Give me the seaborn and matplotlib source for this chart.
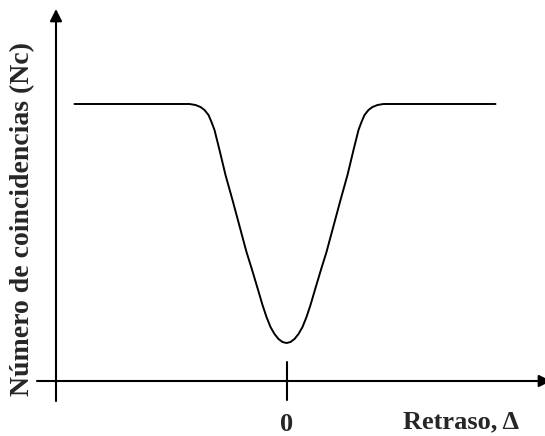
import matplotlib.pyplot as plt
import seaborn as sns
import pandas as pd

# curve (arbitrary units, delay 0 at the tick)
delay = [-21.2, -18.7, -13.7, -9.7, -9.1, -8.6, -8.2, -7.8, -7.5, -7.2,
         -6.7, -6.1, -5.4, -4.7, -4.0, -3.5, -2.9, -2.4, -2.0, -1.6,
         -1.2, -0.8, -0.4, 0.0,
         0.4, 0.8, 1.2, 1.6, 2.0, 2.4, 2.9, 3.5, 4.0, 4.7,
         5.4, 6.1, 6.7, 7.2, 7.5, 7.8, 8.2, 8.6, 9.1, 9.7,
         13.7, 18.7, 20.9]
counts = [27.7, 27.7, 27.7, 27.7, 27.6, 27.4, 27.1, 26.6, 25.9, 25.1,
          23.1, 20.6, 18.1, 15.5, 12.9, 11.3, 9.3, 7.6, 6.4, 5.4,
          4.7, 4.2, 3.9, 3.8,
          3.9, 4.2, 4.7, 5.4, 6.4, 7.6, 9.3, 11.3, 12.9, 15.5,
          18.1, 20.6, 23.1, 25.1, 25.9, 26.6, 27.1, 27.4, 27.6, 27.7,
          27.7, 27.7, 27.7]
tick_labels = ['0']

df = pd.DataFrame({'delay': delay, 'counts': counts})

sns.set_style('white')
plt.rcParams['font.family'] = ['Liberation Serif', 'DejaVu Serif']

fig = plt.figure(figsize=(5.45, 4.36), dpi=100)
ax = fig.add_axes([0, 0, 1, 1])
ax.set_xlim(-28.65, 25.85)
ax.set_ylim(-5.5, 38.1)
ax.axis('off')

sns.lineplot(data=df, x='delay', y='counts', sort=False, color='black',
             linewidth=1.4, ax=ax)

arrow = dict(arrowstyle='-|>,head_length=0.72,head_width=0.36',
             color='black', lw=1.5, shrinkA=0, shrinkB=0)
# x axis and y axis with arrows
ax.annotate('', xy=(26.45, 0), xytext=(-24.95, 0), arrowprops=arrow,
            annotation_clip=False)
ax.annotate('', xy=(-23.05, 37.2), xytext=(-23.05, -2.0), arrowprops=arrow,
            annotation_clip=False)
# tick at zero delay
ax.plot([0, 0], [-1.9, 1.9], color='black', lw=1.5)

ax.text(0, -4.3, tick_labels[0], ha='center', va='center',
        fontsize=19, fontweight='bold')
ax.text(17.5, -4.1, 'Retraso, Δ', ha='center', va='center',
        fontsize=19, fontweight='bold')
ax.text(-26.35, 16.2, 'Número de coincidencias (Nc)', ha='center',
        va='center', rotation=90, fontsize=20, fontweight='bold')

plt.savefig('out.png', dpi=100)
